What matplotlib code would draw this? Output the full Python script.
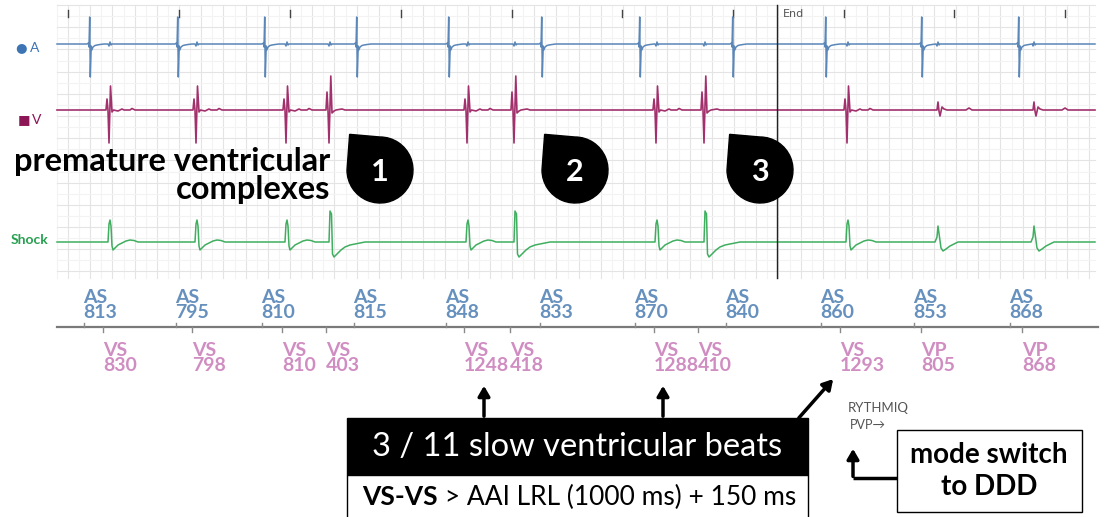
import matplotlib
matplotlib.use("Agg")
import matplotlib.pyplot as plt
import numpy as np
from matplotlib.patches import Rectangle, PathPatch
from matplotlib.path import Path

# --- beat timing (pixel x positions) ---
a_spike_x = [90, 178, 265, 357, 449, 542, 640, 733, 826, 922, 1019]
v_beat_x = [110, 197, 287, 330, 468, 515, 657, 705, 848, 938, 1034]
v_beat_type = ['N', 'N', 'N', 'PVC', 'N', 'PVC', 'N', 'PVC', 'N', 'VP', 'VP']

# --- marker channel ---
as_x = [84, 176, 262, 354, 446, 540, 635, 726, 821, 914, 1010]
as_ms = [813, 795, 810, 815, 848, 833, 870, 840, 860, 853, 868]
vs_x = [103, 192, 282, 326, 464, 510, 654, 698, 840, 921, 1022]
vs_lab = ['VS', 'VS', 'VS', 'VS', 'VS', 'VS', 'VS', 'VS', 'VS', 'VP', 'VP']
vs_ms = [830, 798, 810, 403, 1248, 418, 1288, 410, 1293, 805, 868]

top_ticks_x = [68, 179, 290, 401, 512, 622, 733, 844, 954, 1065]
end_x = 777
drops = [(1, 380), (2, 575), (3, 760)]

# complex shapes (dx, dy up)
A_SPIKE = [(-3, 0), (-1.5, 1), (-1, -3), (-0.3, 27), (0.3, -33), (1.2, -2), (1.8, -6),
           (3, -3), (5, -1.5), (7, -1), (10, -0.5), (14, 0)]
A_FAR = [(-2, 0), (-1, -2), (0, 2), (1, -1), (2, 0)]
V_SHAPES = {
    'N': [(-4, 0), (-3, 11), (-2, 0), (-1, -33), (0.5, 24), (2, -2), (3.5, 0),
          (8, -1), (12, 1), (14, 0), (20, 0), (22, 1.5), (25, 0)],
    'PVC': [(-4, 0), (-3, 18), (-2, 0), (-1, -33), (0.8, 34), (2, -3), (4, -1), (6, 0),
            (12, 1), (15, 0)],
    'VP': [(-1, 0), (0, 8), (1, -1), (2, -6), (4, 3), (6, 1), (9, 0),
           (28, 0), (31, 2), (34, 0)],
}
SH_SHAPES = {
    'N': [(-2, 0), (-1, 18), (0, 22), (1, 16), (2, -4), (3, -8), (5, -6), (8, -3),
          (12, -1), (16, 1), (20, 2), (24, 1.5), (28, 0)],
    'PVC': [(-1, 0), (0, 31), (1.5, 28), (2.5, -12), (4, -15), (7, -12), (11, -8),
            (15, -5), (20, -3), (25, -2), (30, -1), (35, 0)],
    'VP': [(-3, 0), (-1, 5), (0, 16), (1.5, 5), (3, -6), (5, -9), (8, -7), (12, -4),
           (16, -2), (20, 0)],
}

X0, X1 = 57, 1095
BASE_A, BASE_V, BASE_SH = 44, 110, 242


def build_trace(events, base):
    pts = [(X0, 0)]
    for x, shape in events:
        pts += [(x + dx, dy) for dx, dy in shape]
    pts.append((X1, 0))
    pts.sort(key=lambda p: p[0])
    xs = [p[0] for p in pts]
    ys = [base - p[1] for p in pts]
    return xs, ys


fig = plt.figure(figsize=(11.06, 5.17), dpi=100)
ax = fig.add_axes([0, 0, 1, 1])
ax.set_xlim(0, 1106)
ax.set_ylim(517, 0)
ax.axis('off')

# grid
for gx in np.arange(top_ticks_x[0] - 11 * 1, X1, 11.1):
    major = abs(((gx - top_ticks_x[0]) / 22.2) - round((gx - top_ticks_x[0]) / 22.2)) < 0.1
    ax.plot([gx, gx], [5, 278], color='#e4e4e4' if major else '#f3f3f3', lw=0.8, zorder=0)
for gy in np.arange(5, 279, 11.1):
    major = abs(((gy - 5) / 22.2) - round((gy - 5) / 22.2)) < 0.1
    ax.plot([X0, X1], [gy, gy], color='#e4e4e4' if major else '#f3f3f3', lw=0.8, zorder=0)

for tx in top_ticks_x:
    ax.plot([tx, tx], [10, 17], color='#444444', lw=1)

# traces
a_events = [(x, A_SPIKE) for x in a_spike_x] + [(x, A_FAR) for x in v_beat_x]
xs, ys = build_trace(a_events, BASE_A)
ax.plot(xs, ys, color='#5a86b8', lw=1.1)

v_events = [(x, V_SHAPES[t]) for x, t in zip(v_beat_x, v_beat_type)]
xs, ys = build_trace(v_events, BASE_V)
ax.plot(xs, ys, color='#a2306c', lw=1.2)

sh_events = [(x, SH_SHAPES[t]) for x, t in zip(v_beat_x, v_beat_type)]
xs, ys = build_trace(sh_events, BASE_SH)
ax.plot(xs, ys, color='#3fae5f', lw=1.1)

# End marker
ax.plot([end_x, end_x], [5, 278], color='#222222', lw=1)
ax.text(end_x + 6, 14, 'End', fontsize=8, color='#555555', va='center', family='DejaVu Sans')

# channel labels
ax.text(15, 48, '●', fontsize=9.5, color='#3d74b4', va='center')
ax.text(30, 48, 'A', fontsize=10, color='#3d74b4', va='center', family='Lato')
ax.text(18, 120, '■', fontsize=9.5, color='#8c1656', va='center')
ax.text(32, 120, 'V', fontsize=10, color='#8c1656', va='center', family='Lato')
ax.text(11, 240, 'Shock', fontsize=10, color='#27a050', va='center', family='Lato', weight='bold')

ax.text(330, 162, 'premature ventricular', fontsize=23.5, weight='bold', family='Lato',
        ha='right', va='center', color='black')
ax.text(330, 190, 'complexes', fontsize=23.5, weight='bold', family='Lato',
        ha='right', va='center', color='black')

# numbered drops
arc = Path.arc(180, 450)
for num, cx in drops:
    cy, r = 170, 33
    verts = [(cx + r * ux, cy - r * uy) for ux, uy in arc.vertices]
    codes = list(arc.codes)
    verts += [(cx - r * 0.92, cy - r * 1.08), (cx - r, cy)]
    codes += [Path.LINETO, Path.CLOSEPOLY]
    ax.add_patch(PathPatch(Path(verts, codes), facecolor='black', edgecolor='black', zorder=5))
    ax.text(cx, cy + 2, str(num), color='white', fontsize=22, weight='bold', family='Lato',
            ha='center', va='center', zorder=6)

# marker timeline
ax.plot([X0, 1098], [327, 327], color='#7a7a7a', lw=1.6)
for x, ms in zip(as_x, as_ms):
    ax.plot([x, x], [323, 327], color='#8a8a8a', lw=1)
    ax.text(x - 1, 305, 'AS\n%d' % ms, color='#6690bd', fontsize=14, weight='bold',
            family='Lato', ha='left', va='center', linespacing=0.9)
for x, lab, ms in zip(vs_x, vs_lab, vs_ms):
    ax.plot([x, x], [327, 332], color='#8a8a8a', lw=1)
    ax.text(x, 358, '%s\n%d' % (lab, ms), color='#d08dc2', fontsize=14, weight='bold',
            family='Lato', ha='left', va='center', linespacing=0.9)

# bottom annotations
arrow_kw = dict(arrowstyle='-|>,head_width=0.35,head_length=0.6', color='black', lw=2.5)
ax.annotate('', xy=(484, 383), xytext=(484, 419), arrowprops=arrow_kw)
ax.annotate('', xy=(663, 383), xytext=(663, 419), arrowprops=arrow_kw)
ax.annotate('', xy=(835, 377), xytext=(797, 420), arrowprops=arrow_kw)

ax.add_patch(Rectangle((347, 418), 461, 57, facecolor='black', edgecolor='black', zorder=3))
ax.text(577, 447, '3 / 11 slow ventricular beats', color='white', fontsize=23.5,
        family='Lato', ha='center', va='center', zorder=4)
ax.add_patch(Rectangle((347, 475), 461, 50, facecolor='white', edgecolor='black', lw=1, zorder=3))

t1 = ax.text(362, 497, 'VS-VS', fontsize=19, weight='bold', family='Lato',
             ha='left', va='center', zorder=4)
fig.canvas.draw()
bb = t1.get_window_extent().transformed(ax.transData.inverted())
ax.text(bb.x1, 497, ' > AAI LRL (1000 ms) + 150 ms', fontsize=19, family='Lato',
        ha='left', va='center', zorder=4)

ax.text(848, 408, 'RYTHMIQ', fontsize=9.5, color='#555555', ha='left', va='center', family='Lato')
ax.text(850, 425, 'PVP→', fontsize=9, color='#555555', ha='left', va='center',
        family=['Lato', 'DejaVu Sans'])

ax.add_patch(Rectangle((897, 430), 185, 82, facecolor='white', edgecolor='black', lw=1, zorder=3))
ax.text(989, 471, 'mode switch\nto DDD', fontsize=20, weight='bold', family='Lato',
        ha='center', va='center', linespacing=1.25, zorder=4)
ax.plot([897, 853], [478, 478], color='black', lw=2.5, solid_capstyle='butt')
ax.annotate('', xy=(853, 446), xytext=(853, 479.2), arrowprops=arrow_kw)

fig.savefig('out.png', dpi=100)
